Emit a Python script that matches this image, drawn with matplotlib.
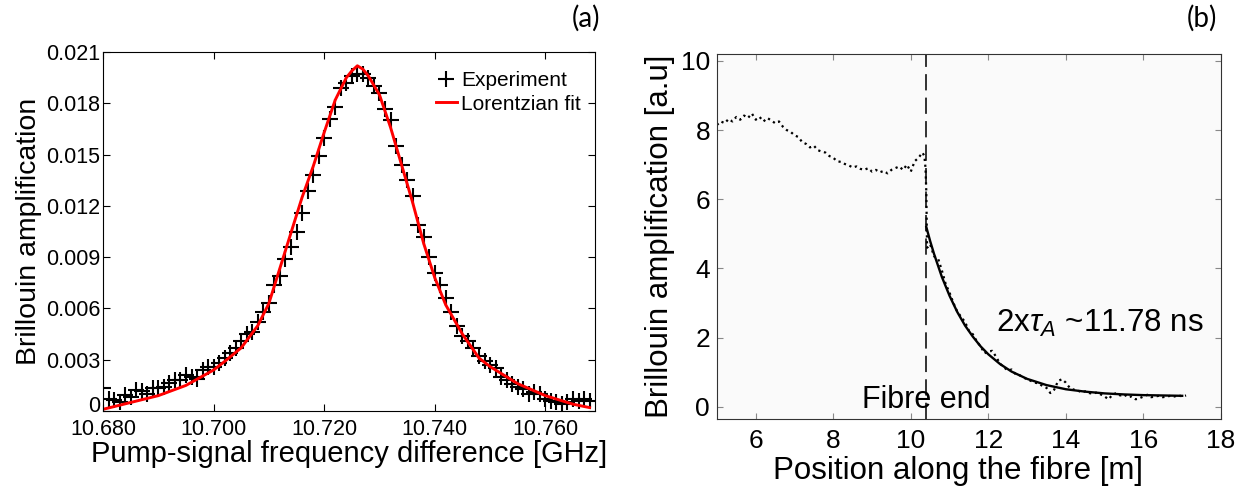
import numpy as np
import matplotlib
matplotlib.use("Agg")
import matplotlib.pyplot as plt
from matplotlib.ticker import FixedLocator, FuncFormatter

plt.rcParams["font.family"] = ["Liberation Sans", "DejaVu Sans"]
plt.rcParams["mathtext.fontset"] = "custom"
plt.rcParams["mathtext.it"] = "Liberation Sans:italic"
plt.rcParams["mathtext.rm"] = "Liberation Sans"

# (a) Brillouin gain spectrum, experiment + Lorentzian fit
freq_exp = [10.680 + 0.001 * i for i in range(89)]
gain_exp = [
    0.00134, 0.00068, 0.00062, 0.00053, 0.00092, 0.00082, 0.00125, 0.00120, 0.00100, 0.00136,
    0.00134, 0.00140, 0.00164, 0.00180, 0.00180, 0.00210, 0.00200, 0.00190, 0.00240, 0.00260,
    0.00260, 0.00280, 0.00310, 0.00340, 0.00370, 0.00410, 0.00450, 0.00460, 0.00520, 0.00580,
    0.00630, 0.00740, 0.00790, 0.00890, 0.00960, 0.01050, 0.01160, 0.01290, 0.01380, 0.01490,
    0.01600, 0.01710, 0.01780, 0.01890, 0.01920, 0.01960, 0.01970, 0.01970, 0.01950, 0.01900,
    0.01860, 0.01770, 0.01700, 0.01550, 0.01440, 0.01350, 0.01260, 0.01090, 0.01020, 0.00900,
    0.00810, 0.00740, 0.00660, 0.00580, 0.00500, 0.00440, 0.00410, 0.00370, 0.00320, 0.00290,
    0.00270, 0.00250, 0.00200, 0.00180, 0.00160, 0.00140, 0.00130, 0.00100, 0.00110, 0.00100,
    0.00070, 0.00060, 0.00050, 0.00040, 0.00050, 0.00070, 0.00060, 0.00070, 0.00060,
]
freq_fit = [10.680, 10.685, 10.690, 10.695, 10.700, 10.702, 10.705, 10.708, 10.710, 10.713,
            10.716, 10.718, 10.720, 10.722, 10.724, 10.725, 10.726, 10.727, 10.728, 10.730,
            10.732, 10.734, 10.736, 10.738, 10.740, 10.742, 10.745, 10.748, 10.750, 10.755,
            10.760, 10.765, 10.768]
gain_fit = [0.00010, 0.00050, 0.00090, 0.00150, 0.00240, 0.00290, 0.00370, 0.00500, 0.00630, 0.00940,
            0.01250, 0.01430, 0.01630, 0.01820, 0.01950, 0.01990, 0.02020, 0.02000, 0.01960, 0.01850,
            0.01660, 0.01440, 0.01220, 0.00980, 0.00780, 0.00620, 0.00450, 0.00310, 0.00260, 0.00160,
            0.00090, 0.00040, 0.00020]

# (b) Brillouin amplification along the fibre
pos_data = [round(5.0 + 0.1 * i, 2) for i in range(54)] + [10.35, 10.38, 10.40, 10.42] + \
           [round(10.5 + 0.1 * i, 2) for i in range(67)]
amp_data = [
    8.15, 8.25, 8.20, 8.32, 8.25, 8.38, 8.30, 8.42, 8.35, 8.48,
    8.30, 8.38, 8.25, 8.35, 8.28, 8.20, 8.25, 8.10, 8.00, 7.95,
    7.85, 7.80, 7.65, 7.60, 7.50, 7.55, 7.42, 7.38, 7.35, 7.25,
    7.20, 7.10, 7.08, 7.02, 6.98, 6.92, 6.95, 6.88, 6.85, 6.90,
    6.80, 6.85, 6.78, 6.82, 6.75, 6.85, 6.90, 6.95, 6.85, 7.00,
    6.80, 7.10, 7.20, 7.35,
    7.25, 6.90, 6.20, 4.60,
    4.70, 4.35, 4.30, 3.95, 3.55, 3.30, 3.00, 2.75, 2.60, 2.45,
    2.20, 2.10, 1.90, 1.75, 1.55, 1.60, 1.62, 1.45, 1.25, 1.15,
    1.05, 1.08, 0.95, 0.92, 0.85, 0.80, 0.75, 0.70, 0.68, 0.60,
    0.55, 0.40, 0.50, 0.75, 0.80, 0.70, 0.55, 0.50, 0.48, 0.42,
    0.45, 0.40, 0.38, 0.42, 0.36, 0.30, 0.22, 0.35, 0.40, 0.33,
    0.36, 0.28, 0.30, 0.22, 0.25, 0.30, 0.35, 0.28, 0.30, 0.32,
    0.28, 0.30, 0.32, 0.30, 0.34, 0.30, 0.33,
]
pos_fit = [10.4, 10.5, 10.6, 10.8, 11.0, 11.2, 11.4, 11.6, 11.8, 12.0, 12.3,
           12.6, 13.0, 13.5, 14.0, 14.5, 15.0, 15.5, 16.0, 16.5, 17.0]
amp_fit = [5.20, 4.79, 4.42, 3.76, 3.21, 2.74, 2.35, 2.03, 1.75, 1.52, 1.24,
           1.02, 0.81, 0.63, 0.51, 0.44, 0.39, 0.36, 0.34, 0.33, 0.32]
fibre_end = 10.4

fig = plt.figure(figsize=(12.46, 4.93), dpi=100)

# ---- panel (a)
ax1 = fig.add_axes([0.0827, 0.1663, 0.3949, 0.728])
ax1.plot(freq_exp, gain_exp, "+", color="black", markersize=12, mew=1.5, label="Experiment")
ax1.plot(freq_fit, gain_fit, "-", color="red", lw=2.1, label="Lorentzian fit")
ax1.set_xlim(10.680, 10.769)
ax1.set_ylim(0, 0.021)
ax1.xaxis.set_major_locator(FixedLocator([10.68, 10.70, 10.72, 10.74, 10.76]))
ax1.xaxis.set_major_formatter(FuncFormatter(lambda v, p: f"{v:.3f}"))
ax1.yaxis.set_major_locator(FixedLocator([0, 0.003, 0.006, 0.009, 0.012, 0.015, 0.018, 0.021]))
# the "0" label is drawn separately, slightly raised, as in the original
ax1.yaxis.set_major_formatter(FuncFormatter(lambda v, p: "" if v == 0 else f"{v:.3f}"))
ax1.tick_params(direction="in", length=5, top=True, right=True, labelsize=15.5)
ax1.tick_params(axis="x", pad=6)
ax1.tick_params(axis="y", pad=2)
ax1.annotate("0", xy=(0, 0), xycoords="axes fraction", xytext=(-2, 3), textcoords="offset points",
             ha="right", va="center", fontsize=15.5)
ax1.set_xlabel("Pump-signal frequency difference [GHz]", fontsize=21, labelpad=0)
ax1.set_ylabel("Brillouin amplification", fontsize=20.5, labelpad=3)
ax1.legend(loc="upper left", bbox_to_anchor=(0.655, 0.975), frameon=False, fontsize=15,
           handlelength=1.0, handletextpad=0.2, labelspacing=0.2, borderpad=0)
fig.text(0.482, 0.962, "(a)", fontsize=20, ha="right", va="center", family="Lato")

# ---- panel (b)
ax2 = fig.add_axes([0.5754, 0.1501, 0.4045, 0.7404])
ax2.set_facecolor("#fafafa")
ax2.axvline(fibre_end, color="#222222", lw=1.3, ls=(0, (9, 4)))
ax2.plot(pos_data, amp_data, color="black", lw=1.6, ls=":")
ax2.plot(pos_fit, amp_fit, color="black", lw=1.7)
ax2.set_xlim(5, 18)
ax2.set_ylim(-0.35, 10.2)
ax2.set_xticks([6, 8, 10, 12, 14, 16, 18])
ax2.set_yticks([0, 2, 4, 6, 8, 10])
ax2.tick_params(direction="in", length=4, color="#888888", top=True, right=True, labelsize=19)
ax2.tick_params(axis="x", pad=7)
ax2.tick_params(axis="y", pad=5)
for s in ax2.spines.values():
    s.set_color("#333333")
ax2.set_xlabel("Position along the fibre [m]", fontsize=22.5, labelpad=0)
ax2.xaxis.set_label_coords(0.478, -0.1)
ax2.xaxis.label.set_va("top")
ax2.set_ylabel("Brillouin amplification [a.u]", fontsize=22.5, labelpad=4)
ax2.text(10.4, 0.2, "Fibre end", fontsize=22, ha="center", va="center")
ax2.text(12.2, 2.4, r"2x$\tau_A$ ~11.78 ns", fontsize=22.5, ha="left", va="center")
fig.text(0.977, 0.962, "(b)", fontsize=20, ha="right", va="center", family="Lato")

fig.savefig("out.png", dpi=100)
